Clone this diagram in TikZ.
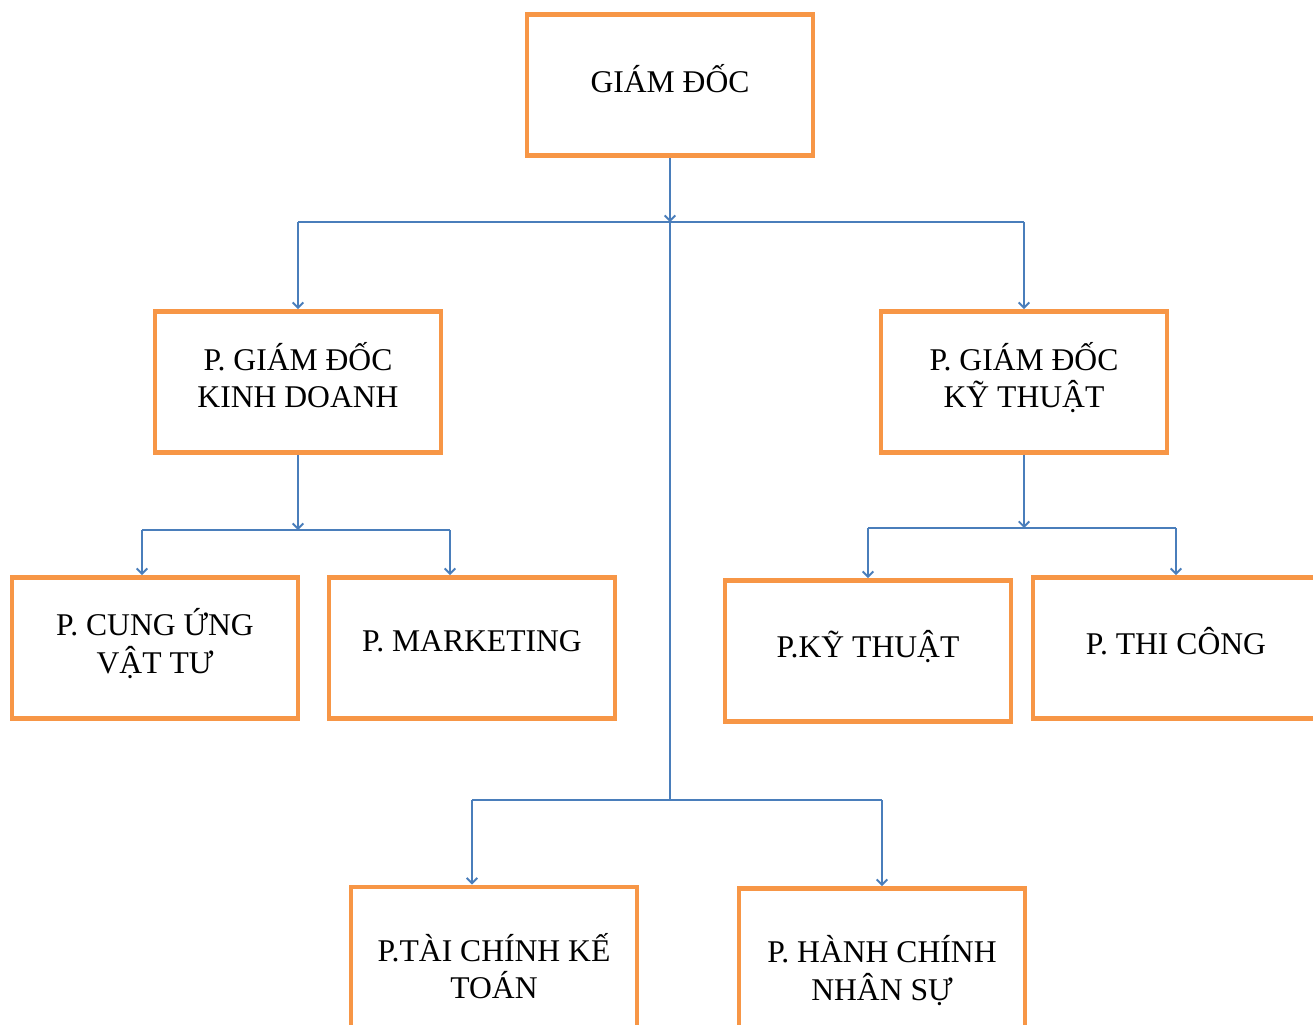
\documentclass[tikz,border=0pt]{standalone}
\usepackage{fontspec}
\setmainfont{Liberation Serif}
\usetikzlibrary{arrows.meta}
\definecolor{boxorange}{HTML}{F79646}
\definecolor{lineblue}{HTML}{4A7EBB}

\begin{document}
\begin{tikzpicture}[x=0.02cm,y=-0.02cm,
  box/.style={draw=boxorange,line width=2.8pt,minimum width=5.72cm,minimum height=2.82cm,
    align=center,text depth=8pt,font=\fontsize{18}{21.5}\selectfont},
  link/.style={draw=lineblue,line width=1.1pt},
  arr/.style={link,-{Straight Barb[length=3pt,width=6pt]}}]
  \useasboundingbox (0,0) rectangle (1313,1025);
  % boxes
  \node[box] (gd) at (670,85) {GIÁM ĐỐC};
  \node[box] (pkd) at (298,382) {P. GIÁM ĐỐC\\KINH DOANH};
  \node[box] (pkt) at (1024,382) {P. GIÁM ĐỐC\\KỸ THUẬT};
  \node[box] (cu) at (155,648) {P. CUNG ỨNG\\VẬT TƯ};
  \node[box] (mk) at (472,648) {P. MARKETING};
  \node[box] (kt) at (868,651) {P.KỸ THUẬT};
  \node[box] (tc) at (1176,648) {P. THI CÔNG};
  \node[box,minimum height=3.44cm] (tckt) at (494,973) {P.TÀI CHÍNH KẾ\\TOÁN};
  \node[box,minimum height=3.46cm] (hcns) at (882,975) {P. HÀNH CHÍNH\\NHÂN SỰ};
  % bus points
  \coordinate (top) at (670,222);
  \coordinate (bot) at (670,800);
  \coordinate (kdbus) at (298,530);
  \coordinate (ktbus) at (1024,528);
  \coordinate (cuL) at (142,530);
  \coordinate (mkL) at (450,530);
  \coordinate (tcktL) at (472,800);
  % connectors
  \draw[arr] (gd.south) -- (top);
  \draw[link] (pkd.north |- top) -- (pkt.north |- top);
  \draw[arr] (pkd.north |- top) -- (pkd.north);
  \draw[arr] (pkt.north |- top) -- (pkt.north);
  \draw[link] (top) -- (bot);
  \draw[arr] (pkd.south) -- (kdbus);
  \draw[link] (cuL) -- (mkL);
  \draw[arr] (cuL) -- (cuL |- cu.north);
  \draw[arr] (mkL) -- (mkL |- mk.north);
  \draw[arr] (pkt.south) -- (ktbus);
  \draw[link] (kt.north |- ktbus) -- (tc.north |- ktbus);
  \draw[arr] (kt.north |- ktbus) -- (kt.north);
  \draw[arr] (tc.north |- ktbus) -- (tc.north);
  \draw[link] (tcktL) -- (hcns.north |- bot);
  \draw[arr] (tcktL) -- (tcktL |- tckt.north);
  \draw[arr] (hcns.north |- bot) -- (hcns.north);
\end{tikzpicture}
\end{document}
